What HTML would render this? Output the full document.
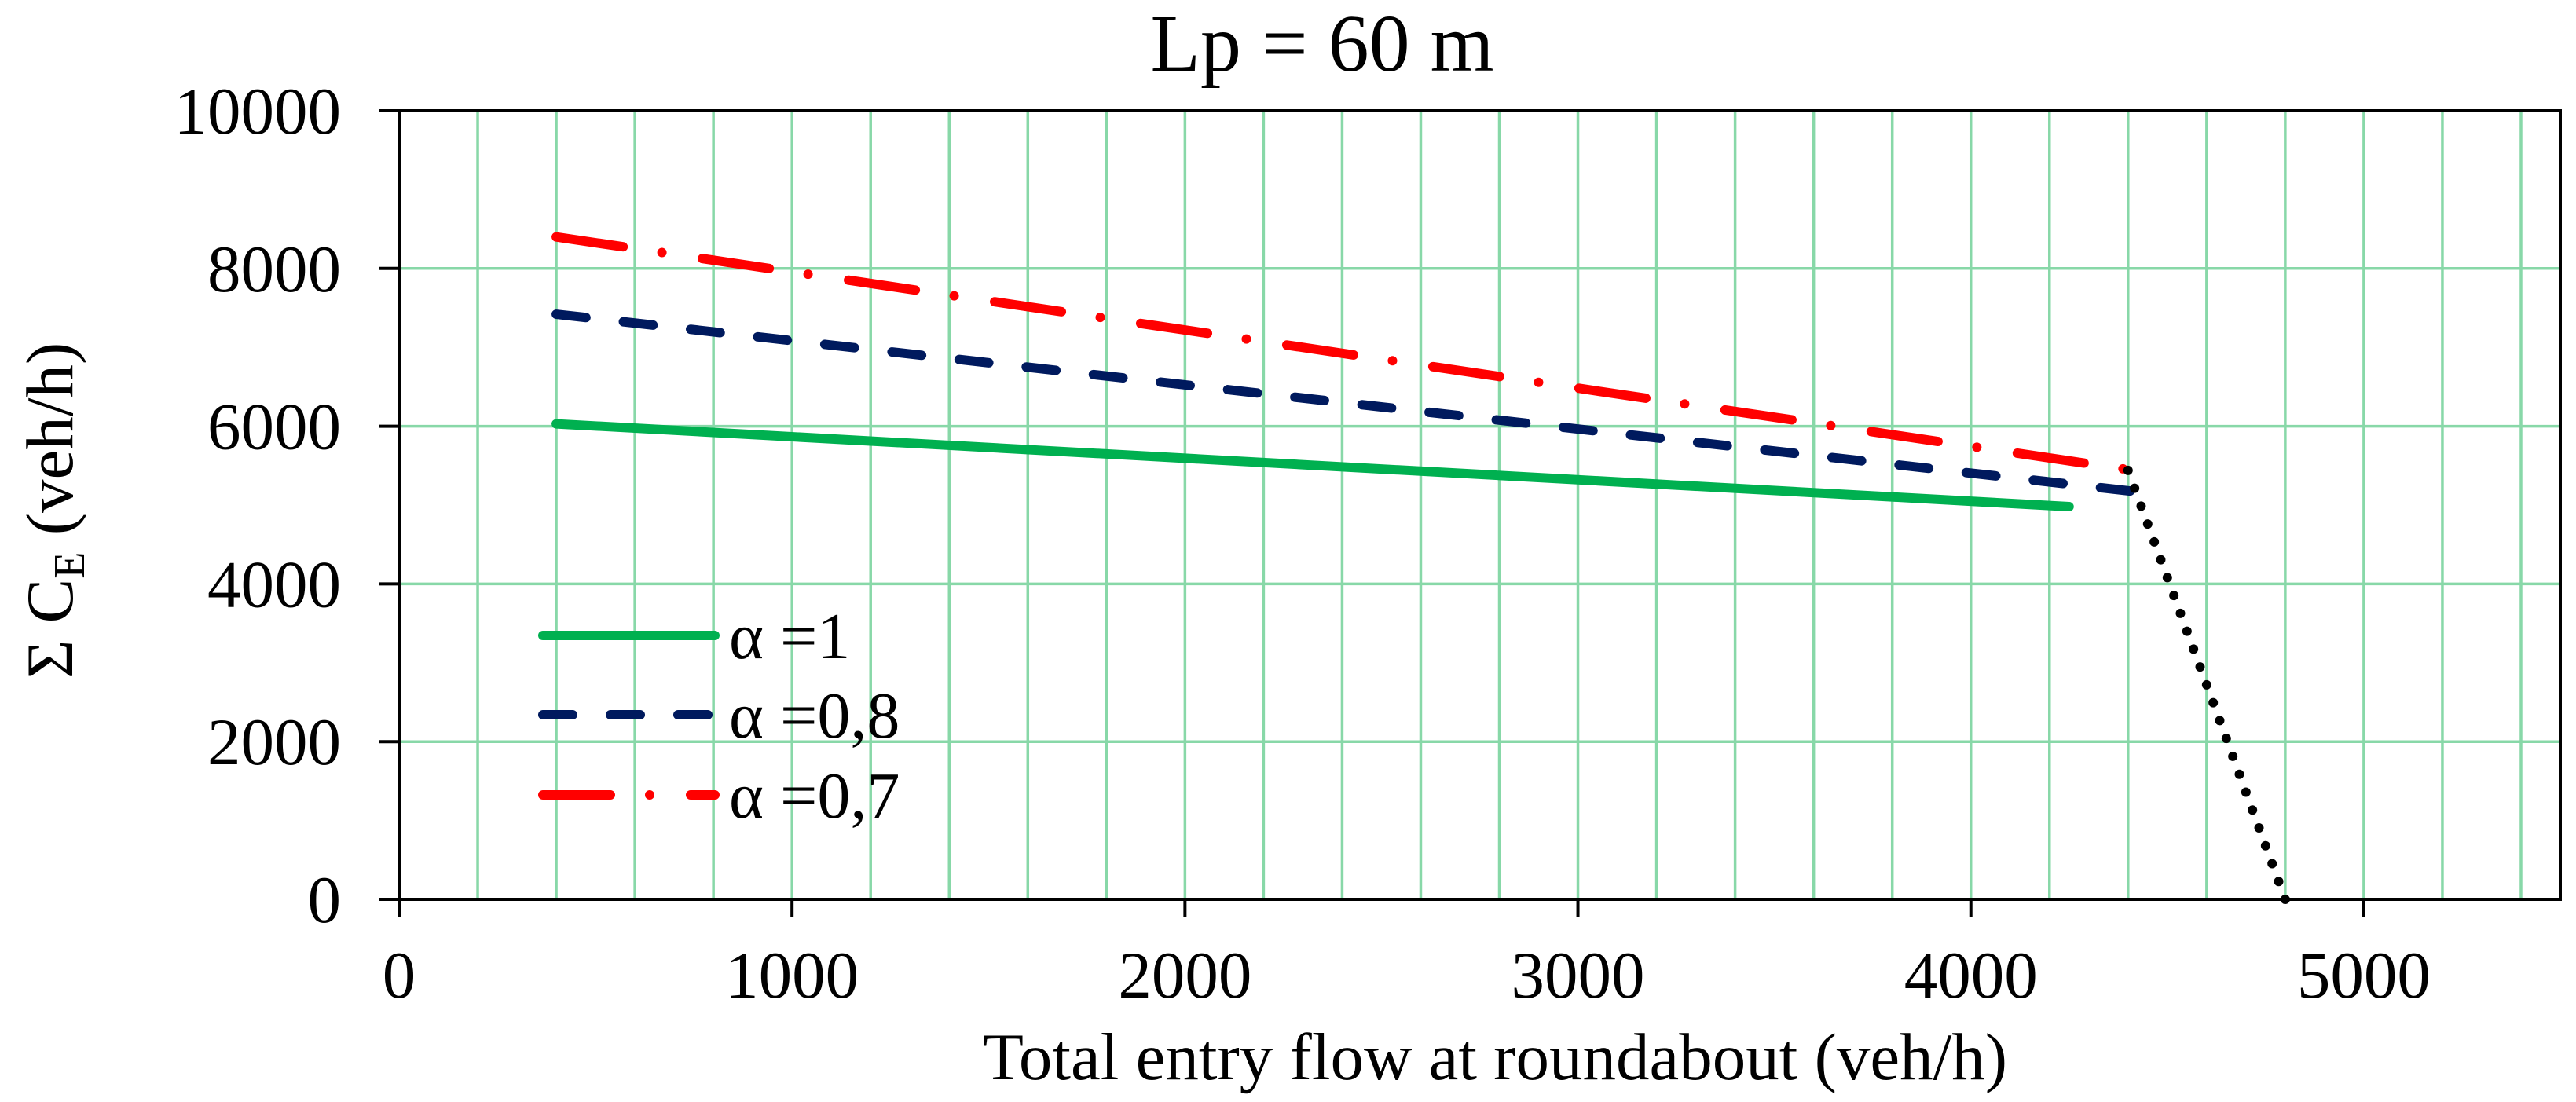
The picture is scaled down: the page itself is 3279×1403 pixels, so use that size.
<!DOCTYPE html>
<html><head><meta charset="utf-8"><style>
html,body{margin:0;padding:0;background:#fff;}
svg{display:block;font-family:"Liberation Serif",serif;}
</style></head><body>
<svg id="chart" width="3279" height="1403" viewBox="0 0 3279 1403">
<text x="1683" y="90" font-size="104" text-anchor="middle">Lp = 60 m</text>
<g id="grid"></g>
<g id="series"></g>
<g id="axes"></g>
<text x="1903" y="1374" font-size="85" text-anchor="middle">Total entry flow at roundabout (veh/h)</text>
<text transform="translate(92,650) rotate(-90)" font-size="85" text-anchor="middle">Σ C<tspan font-size="56" dy="15">E</tspan><tspan dy="-15"> (veh/h)</tspan></text>
<g id="legend"></g>
</svg>
<script>
const xTicks=[0,1000,2000,3000,4000,5000];
const yTicks=[0,2000,4000,6000,8000,10000];
const seriesNames=["α =1","α =0,8","α =0,7"];
const greenX=[400,4250];
const greenY=[6030,4980];
const blueX=[400,4420];
const blueY=[7420,5170];
const redX=[400,4400];
const redY=[8400,5450];
const blackX=[4400,4800];
const blackY=[5440,0];

const X0=508,X1=3259,Y0=1145,Y1=141,XMAX=5500,YMAX=10000;
const sx=v=>X0+v/XMAX*(X1-X0);
const sy=v=>Y0-v/YMAX*(Y0-Y1);
const NS="http://www.w3.org/2000/svg";
function mk(tag,attrs,parent){const e=document.createElementNS(NS,tag);for(const k in attrs)e.setAttribute(k,attrs[k]);parent.appendChild(e);return e;}
const grid=document.getElementById('grid'),axes=document.getElementById('axes'),ser=document.getElementById('series'),leg=document.getElementById('legend');
for(let v=200;v<XMAX;v+=200){
  const l=mk('line',{x1:sx(v),x2:sx(v),y1:Y1,y2:Y0,stroke:'#88d8a8','stroke-width':3.5},grid);
  
  
}
yTicks.forEach(v=>{
  if(v>0&&v<YMAX){const l=mk('line',{x1:X0,x2:X1,y1:sy(v),y2:sy(v),stroke:'#88d8a8','stroke-width':3.5},grid);
  
  }
  const t=mk('line',{x1:483,x2:X0,y1:sy(v),y2:sy(v),stroke:'#000','stroke-width':4},axes);
  
  
  const tx=mk('text',{x:434,y:sy(v)+29,'font-size':85,'text-anchor':'end'},axes);tx.textContent=v;
  
  
});
xTicks.forEach(v=>{
  const t=mk('line',{x1:sx(v),x2:sx(v),y1:Y0,y2:1168,stroke:'#000','stroke-width':4},axes);
  
  
  const tx=mk('text',{x:sx(v),y:1270,'font-size':85,'text-anchor':'middle'},axes);tx.textContent=v;
  
  
});
const fr=mk('rect',{x:X0,y:Y1,width:X1-X0,height:Y0-Y1,fill:'none',stroke:'#000','stroke-width':4},axes);


function path(xs,ys){return xs.map((x,i)=>(i?'L':'M')+sx(x)+' '+sy(ys[i])).join(' ');}
const styles=[
 {xs:greenX,ys:greenY,c:'#00b050',d:'',n:'series-alpha-1'},
 {xs:blueX,ys:blueY,c:'#001a5e',d:'38 48',n:'series-alpha-0-8'},
 {xs:redX,ys:redY,c:'#ff0000',d:'86 50 0 52',n:'series-alpha-0-7'}];
styles.forEach(s=>{
  const p=mk('path',{d:path(s.xs,s.ys),stroke:s.c,'stroke-width':12,fill:'none','stroke-linecap':'round','stroke-dasharray':s.d},ser);
  
  
});
const bx1=sx(blackX[0]),by1=sy(blackY[0]),bx2=sx(blackX[1]),by2=sy(blackY[1]);
const blen=Math.hypot(bx2-bx1,by2-by1);
const nd=Math.max(1,Math.round(blen/24));
const bp=mk('path',{d:path(blackX,blackY),stroke:'#000','stroke-width':12,fill:'none','stroke-linecap':'round','stroke-dasharray':'0 '+(blen/nd)},ser);


const ly=[809,910,1012];
const ld=['','38 48','86 50 0 52'];
styles.forEach((s,i)=>{
  const l=mk('line',{x1:691,x2:910,y1:ly[i],y2:ly[i],stroke:s.c,'stroke-width':12,'stroke-linecap':'round','stroke-dasharray':ld[i]},leg);
  
  
  const t=mk('text',{x:928,y:ly[i]+29,'font-size':84},leg);t.textContent=seriesNames[i];
  
  
});
</script>
</body></html>
